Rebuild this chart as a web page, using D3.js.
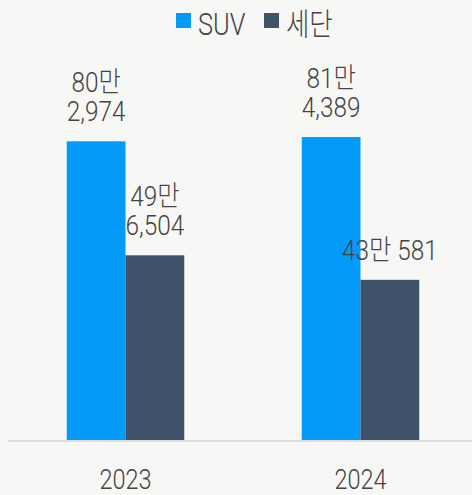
<!DOCTYPE html>
<html><head><meta charset="utf-8">
<script src="https://cdn.jsdelivr.net/npm/d3@7"></script>
<style>
html,body{margin:0;padding:0;background:#F7F7F5;}
svg{display:block;}
text{font-family:Roboto,"Noto Sans CJK KR",sans-serif;fill:#444;font-weight:300;}
</style></head>
<body>
<svg id="chart" width="472" height="495"></svg>
<script>
const years = ["2023", "2024"];
const seriesNames = ["SUV", "세단"];
const suvValues = [802974, 814389];
const sedanValues = [496504, 430581];
const colors = ["#039BF7", "#3F546A"];

const W = 472, H = 495;
const svg = d3.select("#chart");
const SX = 0.87;

const x0 = d3.scaleBand().domain(years).range([8, 478]).padding(0);
const x1 = d3.scaleBand().domain(seriesNames).range([0, x0.bandwidth()]).paddingInner(0).paddingOuter(1);
const y = d3.scaleLinear().domain([0, 1000000]).range([440, 68]);

const data = years.map((yr, i) => ({
  year: yr,
  vals: [{s: seriesNames[0], v: suvValues[i]}, {s: seriesNames[1], v: sedanValues[i]}]
}));

// axis line
svg.append("line").attr("x1", 8).attr("x2", W).attr("y1", 441).attr("y2", 441)
  .attr("stroke", "#DCDCDC").attr("stroke-width", 2);

const g = svg.selectAll("g.year").data(data).join("g")
  .attr("class", "year").attr("transform", d => `translate(${x0(d.year)},0)`);

g.selectAll("rect").data(d => d.vals).join("rect")
  .attr("x", d => x1(d.s)).attr("width", x1.bandwidth())
  .attr("y", d => y(d.v)).attr("height", d => y(0) - y(d.v))
  .attr("fill", (d, i) => colors[i]);

function labelLines(v) {
  const man = Math.floor(v / 10000), rest = v % 10000;
  const restStr = d3.format(",")(rest);
  return rest >= 1000 ? [man + "만", restStr] : [man + "만 " + restStr];
}

g.selectAll("g.lbl").data(d => d.vals).join("g").attr("class", "lbl")
  .each(function(d) {
    const lines = labelLines(d.v);
    const cx = x1(d.s) + x1.bandwidth() / 2;
    const base = y(d.v) - 20;
    lines.forEach((ln, k) => {
      const yy = base - (lines.length - 1 - k) * 29;
      d3.select(this).append("text")
        .attr("transform", `translate(${cx},${yy}) scale(${SX},1)`)
        .attr("text-anchor", "middle").attr("font-size", 28).text(ln);
    });
  });

// x-axis labels
svg.selectAll("text.xl").data(years).join("text").attr("class", "xl")
  .attr("transform", d => `translate(${x0(d) + x0.bandwidth() / 2},489) scale(${SX},1)`)
  .attr("text-anchor", "middle").attr("font-size", 27).text(d => d);

// legend
const legX = [176, 264];
const leg = svg.selectAll("g.leg").data(seriesNames).join("g").attr("class", "leg")
  .attr("transform", (d, i) => `translate(${legX[i]},0)`);
leg.append("rect").attr("x", 0).attr("y", 13).attr("width", 15).attr("height", 15)
  .attr("fill", (d, i) => colors[i]);
leg.append("text").attr("transform", `translate(22,35) scale(0.82,1)`)
  .attr("font-size", 31).text(d => d);
</script>
</body></html>
